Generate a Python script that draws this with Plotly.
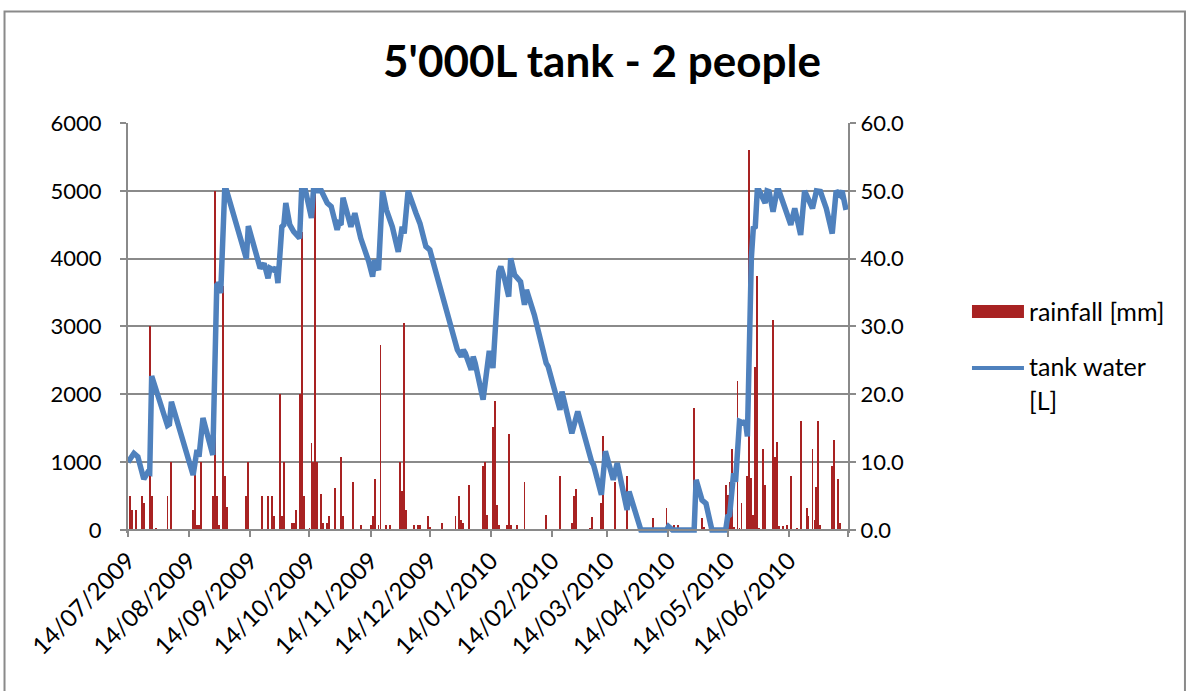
import plotly.graph_objects as go

# ---- data -----------------------------------------------------------------
# Tank water level [L] (turning points of the daily water balance)
tank_dates = [
    "2009-07-14", "2009-07-17", "2009-07-19", "2009-07-22", "2009-07-24", "2009-07-25",
    "2009-07-26", "2009-08-03", "2009-08-04", "2009-08-05", "2009-08-16", "2009-08-18",
    "2009-08-19", "2009-08-21", "2009-08-26", "2009-08-28", "2009-08-29", "2009-08-30",
    "2009-09-01", "2009-09-02", "2009-09-12", "2009-09-13", "2009-09-19", "2009-09-21",
    "2009-09-23", "2009-09-24", "2009-09-26", "2009-09-27", "2009-09-28", "2009-09-30",
    "2009-10-01", "2009-10-02", "2009-10-04", "2009-10-06", "2009-10-09", "2009-10-10",
    "2009-10-12", "2009-10-15", "2009-10-16", "2009-10-20", "2009-10-23", "2009-10-25",
    "2009-10-28", "2009-10-29", "2009-10-30", "2009-10-31", "2009-11-04", "2009-11-06",
    "2009-11-09", "2009-11-11", "2009-11-13", "2009-11-15", "2009-11-16", "2009-11-18",
    "2009-11-20", "2009-11-22", "2009-11-25", "2009-11-28", "2009-11-30", "2009-12-01",
    "2009-12-03", "2009-12-07", "2009-12-09", "2009-12-12", "2009-12-14", "2009-12-17",
    "2009-12-21", "2009-12-22", "2009-12-26", "2009-12-28", "2009-12-30", "2009-12-31",
    "2010-01-01", "2010-01-04", "2010-01-05", "2010-01-06", "2010-01-10", "2010-01-13",
    "2010-01-14", "2010-01-15", "2010-01-18", "2010-01-19", "2010-01-21", "2010-01-23",
    "2010-01-24", "2010-01-26", "2010-01-29", "2010-01-31", "2010-02-01", "2010-02-05",
    "2010-02-11", "2010-02-12", "2010-02-18", "2010-02-19", "2010-02-24", "2010-02-27",
    "2010-03-06", "2010-03-07", "2010-03-11", "2010-03-13", "2010-03-17", "2010-03-19",
    "2010-03-24", "2010-03-25", "2010-03-31", "2010-04-13", "2010-04-14", "2010-04-16",
    "2010-04-27", "2010-04-28", "2010-05-01", "2010-05-03", "2010-05-06", "2010-05-13",
    "2010-05-14", "2010-05-15", "2010-05-17", "2010-05-18", "2010-05-20", "2010-05-22",
    "2010-05-23", "2010-05-24", "2010-05-26", "2010-05-27", "2010-05-28", "2010-05-29",
    "2010-05-30", "2010-05-31", "2010-06-02", "2010-06-03", "2010-06-04", "2010-06-06",
    "2010-06-08", "2010-06-09", "2010-06-15", "2010-06-17", "2010-06-20", "2010-06-22",
    "2010-06-23", "2010-06-26", "2010-06-28", "2010-06-30", "2010-07-03", "2010-07-06",
    "2010-07-08", "2010-07-10", "2010-07-11", "2010-07-13",
]
tank_litres = [
    1000, 1130, 1080, 750, 850, 840,
    2270, 1540, 1560, 1890, 810, 1180,
    1080, 1650, 1105, 3610, 3640, 3490,
    5000, 5000, 4000, 4480, 3860, 3930,
    3710, 3860, 3830, 3870, 3640, 4470,
    4500, 4820, 4500, 4400, 4300, 5000,
    5000, 4600, 5000, 5000, 4820, 4770,
    4425, 4520, 4500, 4900, 4470, 4670,
    4300, 4150, 3960, 3735, 3980, 3830,
    5000, 4720, 4470, 4100, 4470, 4370,
    5000, 4670, 4520, 4180, 4130, 3810,
    3390, 3320, 2850, 2655, 2555, 2655,
    2605, 2360, 2555, 2460, 1920, 2605,
    2605, 2385, 3810, 3885, 3690, 3440,
    4005, 3760, 3660, 3320, 3540, 3170,
    2460, 2410, 1770, 2040, 1425, 1745,
    1010, 960, 520, 1160, 740, 985,
    295, 565, 0, 0, 50, 0,
    0, 740, 440, 390, 0, 0,
    200, 220, 835, 710, 1600, 1575,
    1600, 1380, 4005, 4450, 4470, 5000,
    5000, 4940, 4820, 5000, 4990, 4690,
    5000, 5000, 4500, 4740, 4350, 5000,
    4940, 4740, 5000, 4990, 4740, 4370,
    5000, 4940, 5000, 4720,
]

# Daily rainfall [mm] (rain days only)
rain_dates = [
    "2009-07-15", "2009-07-16", "2009-07-18", "2009-07-21", "2009-07-22", "2009-07-25",
    "2009-07-26", "2009-07-28", "2009-08-03", "2009-08-05", "2009-08-16", "2009-08-17",
    "2009-08-18", "2009-08-19", "2009-08-20", "2009-08-26", "2009-08-27", "2009-08-28",
    "2009-08-29", "2009-08-31", "2009-09-01", "2009-09-02", "2009-09-12", "2009-09-13",
    "2009-09-20", "2009-09-23", "2009-09-25", "2009-09-26", "2009-09-29", "2009-09-30",
    "2009-10-01", "2009-10-05", "2009-10-06", "2009-10-07", "2009-10-09", "2009-10-10",
    "2009-10-11", "2009-10-14", "2009-10-15", "2009-10-16", "2009-10-17", "2009-10-18",
    "2009-10-20", "2009-10-21", "2009-10-23", "2009-10-24", "2009-10-27", "2009-10-30",
    "2009-10-31", "2009-11-05", "2009-11-09", "2009-11-14", "2009-11-15", "2009-11-16",
    "2009-11-18", "2009-11-19", "2009-11-22", "2009-11-24", "2009-11-29", "2009-11-30",
    "2009-12-01", "2009-12-02", "2009-12-06", "2009-12-08", "2009-12-09", "2009-12-13",
    "2009-12-14", "2009-12-20", "2009-12-27", "2009-12-29", "2009-12-30", "2009-12-31",
    "2010-01-03", "2010-01-10", "2010-01-11", "2010-01-12", "2010-01-15", "2010-01-16",
    "2010-01-17", "2010-01-18", "2010-01-22", "2010-01-23", "2010-01-24", "2010-01-27",
    "2010-01-31", "2010-02-11", "2010-02-18", "2010-02-24", "2010-02-25", "2010-02-26",
    "2010-03-05", "2010-03-06", "2010-03-11", "2010-03-12", "2010-03-18", "2010-03-24",
    "2010-04-06", "2010-04-13", "2010-04-15", "2010-04-17", "2010-04-19", "2010-04-27",
    "2010-05-01", "2010-05-02", "2010-05-13", "2010-05-14", "2010-05-15", "2010-05-16",
    "2010-05-17", "2010-05-19", "2010-05-20", "2010-05-21", "2010-05-24", "2010-05-25",
    "2010-05-26", "2010-05-27", "2010-05-28", "2010-05-29", "2010-05-30", "2010-06-01",
    "2010-06-02", "2010-06-06", "2010-06-07", "2010-06-08", "2010-06-09", "2010-06-11",
    "2010-06-13", "2010-06-15", "2010-06-18", "2010-06-20", "2010-06-23", "2010-06-24",
    "2010-06-26", "2010-06-27", "2010-06-28", "2010-06-29", "2010-06-30", "2010-07-06",
    "2010-07-07", "2010-07-09", "2010-07-10",
]
rain_mm = [
    5, 3, 3, 5, 4, 30,
    5, 0.3, 5, 10, 3, 10,
    0.8, 0.8, 10, 5, 50, 5,
    0.8, 36, 8, 3.4, 5, 10,
    5, 5, 5, 2, 20, 2,
    10, 1, 1, 3, 20, 44,
    5, 0.3, 12.8, 10, 50, 10,
    5.3, 1, 1, 2, 6.2, 10.7,
    2, 7, 0.7, 0.8, 2, 7.5,
    0.8, 27.3, 0.8, 0.8, 10, 5.7,
    30.5, 3, 0.8, 0.8, 0.8, 2,
    0.4, 1, 2, 5, 1.5, 1,
    6.7, 9.4, 10, 2.2, 15.2, 19,
    3.7, 0.8, 0.8, 14.1, 0.8, 0.8,
    7, 2.2, 8, 1, 5, 6,
    0.3, 1.9, 4, 13.8, 7, 8,
    1.7, 3.3, 0.7, 0.7, 0.8, 18,
    1.7, 0.5, 6.6, 5.2, 7, 12,
    0.5, 22, 0.3, 4, 8, 56,
    7.6, 2.2, 24, 37.5, 0.3, 12,
    6.6, 31, 10.7, 13, 0.6, 0.6,
    0.8, 8, 0.3, 16, 3.3, 2,
    12, 1.5, 6.3, 16, 0.8, 9.4,
    13.3, 7.5, 1,
]

# Monthly tick marks on the date axis
tick_dates = [
    "2009-07-14", "2009-08-14", "2009-09-14", "2009-10-14", "2009-11-14", "2009-12-14",
    "2010-01-14", "2010-02-14", "2010-03-14", "2010-04-14", "2010-05-14", "2010-06-14",
    "2010-07-14",
]
tick_labels = [
    "14/07/2009", "14/08/2009", "14/09/2009", "14/10/2009", "14/11/2009", "14/12/2009",
    "14/01/2010", "14/02/2010", "14/03/2010", "14/04/2010", "14/05/2010", "14/06/2010",
    "",
]
tank_ticks = [0, 1000, 2000, 3000, 4000, 5000, 6000]
rain_ticks = [0, 10, 20, 30, 40, 50, 60]

# ---- styling --------------------------------------------------------------
FONT = "Lato"
GREY = "#8a8a8a"
RED = "#a82222"
BLUE = "#4f81bd"
DAY_MS = 86400000

yaxis_font = dict(family=FONT, size=22, color="#000000")
xaxis_font = dict(family=FONT, size=24, color="#000000")

fig = go.Figure()

# rainfall bars on the right-hand axis (drawn underneath)
fig.add_trace(go.Bar(
    x=rain_dates, y=rain_mm, name="rainfall [mm]",
    width=0.45 * DAY_MS,
    marker=dict(color=RED, line=dict(width=0)),
    yaxis="y", showlegend=False,
))

# tank level line on the left-hand axis (overlay, drawn on top)
fig.add_trace(go.Scatter(
    x=tank_dates, y=tank_litres, name="tank water [L]",
    mode="lines", line=dict(color=BLUE, width=5.5),
    yaxis="y2", showlegend=False,
))

fig.update_layout(
    width=1188, height=691,
    margin=dict(l=128, r=340, t=123, b=158),
    paper_bgcolor="white", plot_bgcolor="white",
    bargap=0,
    title=dict(
        text="5'000L tank - 2 people",
        font=dict(family=FONT, size=44, color="#000000", weight="bold"),
        x=602 / 1188, xanchor="center", xref="container",
        y=1 - 62 / 691, yanchor="middle", yref="container",
    ),
    xaxis=dict(
        type="date",
        range=["2009-07-14", "2010-07-14"],
        tickvals=tick_dates, ticktext=tick_labels,
        tickangle=-45, tickfont=xaxis_font,
        ticks="outside", ticklen=6, tickwidth=2, tickcolor=GREY,
        showline=True, linecolor=GREY, linewidth=2,
        showgrid=False, zeroline=False,
        anchor="free", position=3 / 410,
    ),
    yaxis=dict(
        side="right",
        range=[-0.45, 60],
        tickvals=rain_ticks, tickformat=".1f", tickfont=yaxis_font,
        ticks="outside", ticklen=6, tickwidth=2, tickcolor=GREY,
        showline=True, linecolor=GREY, linewidth=2,
        showgrid=False, zeroline=False,
    ),
    yaxis2=dict(
        overlaying="y", side="left",
        range=[-45, 6000],
        tickvals=tank_ticks, tickfont=yaxis_font,
        ticks="outside", ticklen=6, tickwidth=2, tickcolor=GREY,
        showline=True, linecolor=GREY, linewidth=2,
        showgrid=True, gridcolor=GREY, gridwidth=2,
        zeroline=False, ticklabelstandoff=14,
    ),
)

# chart frame
fig.add_shape(type="rect", xref="paper", yref="paper",
              x0=-0.1715, x1=1.468, y0=-0.5, y1=1.272,
              line=dict(color=GREY, width=2), fillcolor="rgba(0,0,0,0)", layer="below")

# legend: swatches and labels
fig.add_shape(type="rect", xref="paper", yref="paper",
              x0=1.1722, x1=1.2444, y0=0.5244, y1=0.5561,
              line=dict(width=0), fillcolor=RED)
fig.add_shape(type="line", xref="paper", yref="paper",
              x0=1.1722, x1=1.2444, y0=0.4024, y1=0.4024,
              line=dict(color=BLUE, width=4))
legend_font = dict(family=FONT, size=25, color="#000000")
for text, y in [("rainfall [mm]", 0.5415), ("tank water", 0.4073), ("[L]", 0.3244)]:
    fig.add_annotation(text=text, xref="paper", yref="paper", x=1.249, y=y,
                       xanchor="left", yanchor="middle", showarrow=False,
                       font=legend_font)

fig.write_html("out.html")
